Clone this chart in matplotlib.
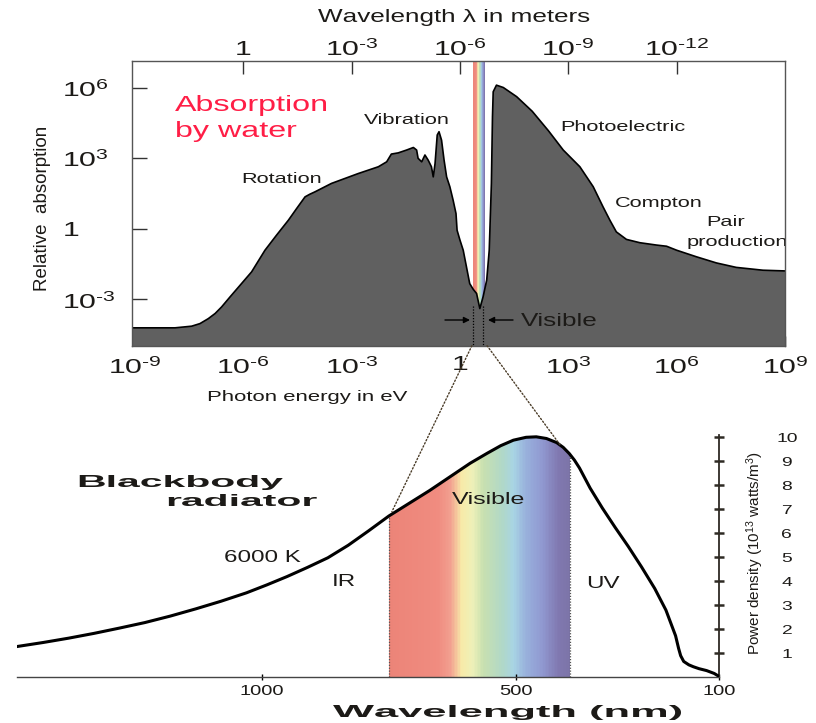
import os
import tempfile
import numpy as np
import matplotlib
matplotlib.use("Agg")
import matplotlib.pyplot as plt
from matplotlib import font_manager
from matplotlib.colors import LinearSegmentedColormap
from matplotlib.patches import ConnectionPatch
from matplotlib.path import Path
from matplotlib.ticker import NullLocator

# ============================ DATA ============================
# Top panel: absorption of water, log10(photon energy / eV) vs log10(relative absorption)
water_log_energy_ev = [-9.09, -7.89, -7.43, -7.20, -6.97, -6.78, -6.60, -6.37, -6.05, -5.77,
                       -5.40, -5.08, -4.75, -4.52, -4.29, -4.16, -4.02, -3.56, -2.82, -2.26,
                       -2.03, -1.90, -1.71, -1.48, -1.29, -1.20, -1.16, -1.06, -0.97, -0.88,
                       -0.79, -0.74, -0.69, -0.63, -0.58, -0.51, -0.44, -0.37, -0.28, -0.19,
                       -0.11, -0.08, 0.00, 0.09, 0.18, 0.27, 0.37, 0.46, 0.55, 0.64,
                       0.74, 0.81, 0.87, 0.90, 0.92, 1.01, 1.20, 1.57, 2.00, 2.45,
                       2.86, 3.32, 3.69, 3.96, 4.15, 4.33, 4.61, 4.98, 5.44, 5.72,
                       6.00, 6.55, 7.10, 7.65, 8.39, 9.00]
water_log_absorption = [-4.21, -4.21, -4.14, -4.03, -3.82, -3.60, -3.32, -2.90, -2.33, -1.83,
                        -0.91, -0.27, 0.37, 0.87, 1.36, 1.47, 1.57, 1.93, 2.35, 2.64,
                        2.85, 3.18, 3.23, 3.35, 3.46, 3.35, 3.00, 2.85, 3.14, 2.92,
                        2.64, 2.21, 2.78, 3.99, 4.13, 3.77, 2.92, 2.21, 1.79, 1.22,
                        0.65, -0.06, -0.48, -0.91, -1.62, -2.33, -2.58, -2.75, -3.39, -2.89,
                        -2.18, -0.91, 1.93, 4.77, 5.83, 6.11, 6.01, 5.62, 5.00, 4.17,
                        3.35, 2.64, 1.79, 0.94, 0.37, -0.13, -0.45, -0.59, -0.69, -0.74,
                        -0.91, -1.19, -1.45, -1.64, -1.76, -1.79]

HY = "\u2010"
energy_ticks_ev = [1e-9, 1e-6, 1e-3, 1, 1e3, 1e6, 1e9]
energy_tick_labels = [r"$\mathregular{10^{%s9}}$" % HY, r"$\mathregular{10^{%s6}}$" % HY,
                      r"$\mathregular{10^{%s3}}$" % HY, "1", r"$\mathregular{10^{3}}$",
                      r"$\mathregular{10^{6}}$", r"$\mathregular{10^{9}}$"]
wavelength_ticks_m = [1, 1e-3, 1e-6, 1e-9, 1e-12]
wavelength_tick_labels = ["1", r"$\mathregular{10^{%s3}}$" % HY, r"$\mathregular{10^{%s6}}$" % HY,
                          r"$\mathregular{10^{%s9}}$" % HY, r"$\mathregular{10^{%s12}}$" % HY]
absorption_ticks = [1e-3, 1, 1e3, 1e6]
absorption_tick_labels = [r"$\mathregular{10^{%s3}}$" % HY, "1", r"$\mathregular{10^{3}}$",
                          r"$\mathregular{10^{6}}$"]

visible_band_log_energy = [0.35, 0.70]     # coloured strip in the top panel
visible_marker_log_energy = [0.35, 0.64]   # dotted markers under the dip

# Bottom panel: 6000 K blackbody, wavelength (nm) vs power density (1e13 W/m^3)
bb_wavelength_nm = [1482, 1430, 1380, 1330, 1280, 1230, 1180, 1130, 1080, 1030,
                    990, 950, 910, 870, 830, 790, 750, 710, 670, 630,
                    590, 557, 530, 505, 480, 460, 440, 420, 407, 395,
                    385, 375, 365, 354, 330, 305, 279, 253, 227, 205,
                    186, 180, 176, 170, 160, 151, 140, 125, 110, 100]
bb_power_density = [1.28, 1.45, 1.63, 1.83, 2.05, 2.28, 2.55, 2.85, 3.17, 3.52,
                    3.85, 4.20, 4.58, 4.98, 5.50, 6.10, 6.72, 7.25, 7.78, 8.35,
                    8.92, 9.33, 9.65, 9.88, 10.00, 10.02, 9.95, 9.78, 9.58, 9.32,
                    9.05, 8.72, 8.32, 7.88, 7.05, 6.25, 5.45, 4.60, 3.70, 2.80,
                    1.73, 1.20, 0.90, 0.66, 0.52, 0.44, 0.36, 0.28, 0.16, 0.03]
bb_xticks = [1000, 500, 100]
bb_xtick_labels = ["1000", "500", "100"]
bb_yticks = [1, 2, 3, 4, 5, 6, 7, 8, 9, 10]
bb_ytick_labels = ["1", "2", "3", "4", "5", "6", "7", "8", "9", "10"]
visible_nm = [750, 393]

# ============================ STYLE ============================
spectrum_stops = [(0.00, "#ec8478"), (0.27, "#f08c80"), (0.34, "#f2a090"), (0.40, "#f8eaa8"),
                  (0.46, "#eef0b8"), (0.52, "#c8e0b0"), (0.63, "#b0d8c8"), (0.69, "#a8d4e4"),
                  (0.76, "#98b0dc"), (0.85, "#9098d0"), (0.94, "#8078b0"), (1.00, "#7c74a8")]
spectrum = LinearSegmentedColormap.from_list("spec", spectrum_stops)
TEXT = "#1c1a17"
FILL = "#606060"
DOT = "#4a3c28"
RED = "#ff1e46"
W, H = 816, 723


# ---------- fonts: horizontally extended Helvetica-like faces ----------
def make_wide(src, sx, family, out_dir):
    from fontTools.ttLib import TTFont
    from fontTools.ttLib.tables._g_l_y_f import GlyphCoordinates
    f = TTFont(src)
    glyf = f["glyf"]
    hmtx = f["hmtx"]
    for gn in f.getGlyphOrder():
        g = glyf[gn]
        if g.isComposite():
            for c in g.components:
                if hasattr(c, "x"):
                    c.x = int(round(c.x * sx))
        elif getattr(g, "numberOfContours", 0) > 0:
            g.coordinates = GlyphCoordinates([(int(round(x * sx)), int(y)) for x, y in g.coordinates])
        adv, lsb = hmtx[gn]
        hmtx[gn] = (int(round(adv * sx)), int(round(lsb * sx)))
    for t in ("kern", "hdmx", "LTSH", "VDMX", "DSIG"):
        if t in f:
            del f[t]
    for rec in f["name"].names:
        if rec.nameID in (1, 4, 6, 16):
            rec.string = family
    path = os.path.join(out_dir, family + ".ttf")
    f.save(path)
    font_manager.fontManager.addfont(path)
    return family


BASE = "Liberation Sans"
WIDE, WIDEB = "DejaVu Sans", "DejaVu Sans"
WIDEB_WEIGHT = "bold"
try:
    tmp = tempfile.mkdtemp()
    reg = font_manager.findfont(font_manager.FontProperties(family="Liberation Sans"), fallback_to_default=False)
    bld = font_manager.findfont(font_manager.FontProperties(family="Liberation Sans", weight="bold"),
                                fallback_to_default=False)
    WIDE = make_wide(reg, 1.45, "XWideA", tmp)
    WIDEB = make_wide(bld, 2.5, "XWideB", tmp)
except Exception:
    BASE = "DejaVu Sans"

plt.rcParams["font.family"] = [BASE, "DejaVu Sans"]
plt.rcParams["text.color"] = TEXT

fig = plt.figure(figsize=(W / 100, H / 100), dpi=100)
fig.patch.set_facecolor("white")


def ptext(x, y, s, size, family, color=TEXT, ha="center", va="center", **kw):
    return fig.text(x / W, 1 - y / H, s, fontsize=size, family=[family, "DejaVu Sans"],
                    color=color, ha=ha, va=va, **kw)


# ============================ TOP PANEL ============================
L1, R1, T1, B1 = 131.7, 785.0, 60.7, 345.7
ax1 = fig.add_axes([L1 / W, 1 - B1 / H, (R1 - L1) / W, (B1 - T1) / H])
ax1.set_xscale("log")
ax1.set_yscale("log")
ylo1, yhi1 = 10 ** -4.97, 10 ** 7.15
ax1.set_xlim(10 ** -9.09, 1e9)
ax1.set_ylim(ylo1, yhi1)

E = 10 ** np.array(water_log_energy_ev)
A = 10 ** np.array(water_log_absorption)

# visible strip
ex = 10 ** np.linspace(visible_band_log_energy[0], visible_band_log_energy[1], 41)
cvals = np.linspace(0, 1, 40)[None, :]
ax1.pcolormesh(ex, [ylo1, yhi1], cvals, cmap=spectrum, vmin=0, vmax=1, shading="flat", zorder=1)

ax1.fill_between(E, A, 1e-8, facecolor=FILL, edgecolor="none", zorder=2)
ax1.plot(E, A, color="black", lw=1.2, zorder=3)

for le in visible_marker_log_energy:
    ax1.plot([10 ** le, 10 ** le], [10 ** -3.3, ylo1], color="black", lw=0.9,
             linestyle=(0, (1, 1.3)), zorder=4)

ax1.set_xticks(energy_ticks_ev, energy_tick_labels)
ax1.set_yticks(absorption_ticks, absorption_tick_labels)
ax1.xaxis.set_minor_locator(NullLocator())
ax1.yaxis.set_minor_locator(NullLocator())
ax1.tick_params(axis="x", direction="in", length=7, width=1, color="black",
                labelsize=15, pad=7, labelcolor=TEXT)
ax1.tick_params(axis="y", direction="in", length=10.5, width=1, color="#333333",
                labelsize=15, pad=50, labelcolor=TEXT)
for lbl in ax1.get_yticklabels():
    lbl.set_horizontalalignment("left")
for lbl in ax1.get_xticklabels() + ax1.get_yticklabels():
    lbl.set_fontfamily([WIDE, "DejaVu Sans"])
for sp in ax1.spines.values():
    sp.set_color("#555555")
    sp.set_linewidth(1.0)
    sp.set_zorder(5)

sec = ax1.secondary_xaxis("top", functions=(lambda e: 1e-6 / e, lambda lam: 1e-6 / lam))
sec.set_xticks(wavelength_ticks_m, wavelength_tick_labels)
sec.xaxis.set_minor_locator(NullLocator())
sec.tick_params(axis="x", direction="in", length=9, width=1, color="#333333",
                labelsize=15, pad=1, labelcolor=TEXT)
for lbl in sec.get_xticklabels():
    lbl.set_fontfamily([WIDE, "DejaVu Sans"])
sec.spines["top"].set_visible(False)

ptext(454, 18, "Wavelength \u03bb in meters", 13, WIDE)
ptext(43, 208, "Relative  absorption", 13.5, BASE, rotation=90)
ptext(175, 105, "Absorption", 16, WIDE, color=RED, ha="left")
ptext(175, 131, "by water", 16, WIDE, color=RED, ha="left")
ptext(407, 120, "Vibration", 10.8, WIDE)
ptext(282, 179, "Rotation", 10.8, WIDE)
ptext(623, 127, "Photoelectric", 10.8, WIDE)
ptext(659, 203, "Compton", 10.8, WIDE)
ptext(726, 222, "Pair", 10.8, WIDE)
t_prod = ptext(687, 242, "production", 10.8, WIDE, ha="left")
t_prod.set_clip_box(ax1.bbox)
t_prod.set_clip_on(True)
ptext(559, 321, "Visible", 13, WIDE)
ptext(307, 397, "Photon energy in eV", 11, WIDE)

ax1.annotate("", xy=(470 / W, 1 - 320 / H), xytext=(445 / W, 1 - 320 / H), xycoords="figure fraction",
             arrowprops=dict(arrowstyle="-|>", color="black", lw=1, mutation_scale=9, shrinkA=0, shrinkB=0))
ax1.annotate("", xy=(488 / W, 1 - 320 / H), xytext=(513 / W, 1 - 320 / H), xycoords="figure fraction",
             arrowprops=dict(arrowstyle="-|>", color="black", lw=1, mutation_scale=9, shrinkA=0, shrinkB=0))

# ============================ BOTTOM PANEL ============================
L2, R2, T2, B2 = 16.7, 719.3, 420.0, 677.3
ax2 = fig.add_axes([L2 / W, 1 - B2 / H, (R2 - L2) / W, (B2 - T2) / H])
ax2.set_facecolor("none")
ax2.set_xlim(1482, 100)
ax2.set_ylim(0, (B2 - T2) / 24.0)

wl = np.array(bb_wavelength_nm, dtype=float)
pd_ = np.array(bb_power_density, dtype=float)

xe = np.linspace(visible_nm[0], visible_nm[1], 121)
mesh = ax2.pcolormesh(xe, [0, 10.6], np.linspace(0, 1, 120)[None, :], cmap=spectrum,
                      vmin=0, vmax=1, shading="flat", zorder=1)
verts = np.vstack([np.column_stack([wl, pd_]), [[wl[-1], 0], [wl[0], 0], [wl[0], pd_[0]]]])
mesh.set_clip_path(Path(verts), ax2.transData)

for v in visible_nm:
    top = np.interp(v, wl[::-1], pd_[::-1])
    ax2.plot([v, v], [0, top], color="#555555", lw=0.9, linestyle=(0, (1, 1.3)), zorder=2)

ax2.plot(wl, pd_, color="black", lw=2.2, zorder=3, solid_capstyle="round", solid_joinstyle="round")

for s in ("left", "top"):
    ax2.spines[s].set_visible(False)
ax2.spines["right"].set_bounds(0, 10.1)
ax2.spines["right"].set_color("#2e2a24")
ax2.spines["right"].set_linewidth(1.3)
ax2.spines["bottom"].set_color("#444444")
ax2.spines["bottom"].set_linewidth(1.0)

ax2.set_xticks(bb_xticks, bb_xtick_labels)
ax2.yaxis.tick_right()
ax2.set_yticks(bb_yticks, bb_ytick_labels)
ax2.tick_params(axis="x", direction="inout", length=4, width=1, labelsize=10, pad=3, labelcolor=TEXT)
ax2.tick_params(axis="y", direction="inout", length=7.2, width=1.8, color="#2e2a24",
                labelsize=9.5, pad=45, labelcolor=TEXT)
for lbl in ax2.get_yticklabels():
    lbl.set_horizontalalignment("center")
for lbl in ax2.get_xticklabels() + ax2.get_yticklabels():
    lbl.set_fontfamily([WIDE, "DejaVu Sans"])

ptext(76, 483, "Blackbody", 11.8, WIDEB, ha="left", fontweight=WIDEB_WEIGHT)
ptext(165, 502, "radiator", 11.8, WIDEB, ha="left", fontweight=WIDEB_WEIGHT)
ptext(489, 499, "Visible", 12.4, WIDE)
ptext(262, 557, "6000 K", 12, WIDE)
ptext(344, 581, "IR", 12, WIDE)
ptext(603, 583, "UV", 12, WIDE)
ptext(508, 712, "Wavelength (nm)", 12.5, WIDEB, fontweight=WIDEB_WEIGHT)
ptext(755, 553, r"Power density (10$\mathregular{^{13}}$ watts/m$\mathregular{^{3}}$)", 11, BASE, rotation=90)

# ============================ CONNECTORS ============================
con_l = ConnectionPatch(xyA=(10 ** 0.33, ylo1), coordsA="data", axesA=ax1,
                        xyB=(744, 6.9), coordsB="data", axesB=ax2,
                        color=DOT, lw=1, linestyle=(0, (1, 1.5)))
con_r = ConnectionPatch(xyA=(10 ** 0.75, ylo1), coordsA="data", axesA=ax1,
                        xyB=(413, 9.68), coordsB="data", axesB=ax2,
                        color=DOT, lw=1, linestyle=(0, (1, 1.5)))
fig.add_artist(con_l)
fig.add_artist(con_r)

fig.savefig("out.png", dpi=100, facecolor="white")
